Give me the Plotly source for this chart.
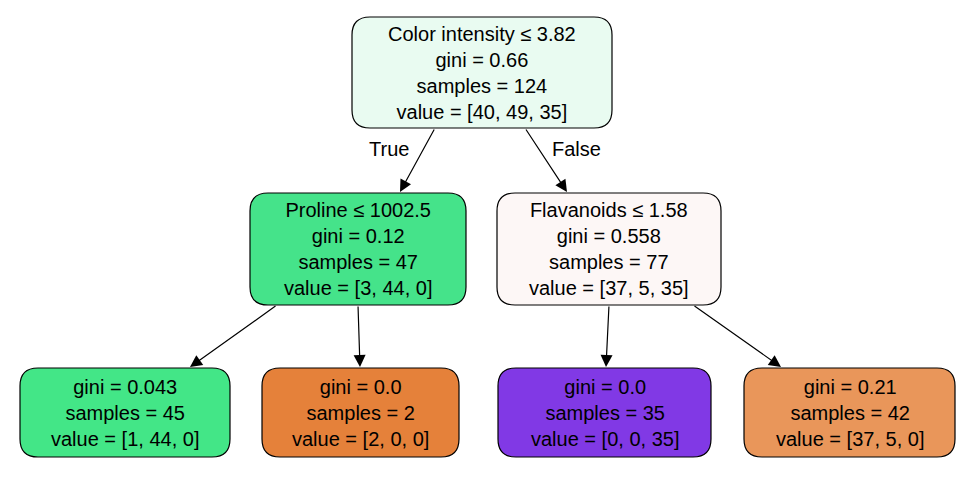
import plotly.graph_objects as go

# tree data
splits = ['Color intensity ≤ 3.82', 'Proline ≤ 1002.5', 'Flavanoids ≤ 1.58', None, None, None, None]
ginis = ['0.66', '0.12', '0.558', '0.043', '0.0', '0.0', '0.21']
samples = [124, 47, 77, 45, 2, 35, 42]
values = [[40, 49, 35], [3, 44, 0], [37, 5, 35], [1, 44, 0], [2, 0, 0], [0, 0, 35], [37, 5, 0]]
parents = [None, 0, 0, 1, 1, 2, 2]
fills = ['#e9fbf1', '#45e38a', '#fdf7f6', '#43e687', '#e5813a', '#8139e5', '#e9965a']

# layout in pixels (x0, y0, x1, y1)
boxes = [(352, 17, 612, 128), (250, 193, 466, 305), (497, 193, 721, 305),
         (20, 368, 230, 457), (262, 368, 459, 457), (498, 368, 711, 457), (744, 368, 955, 457)]
edges = {1: ((435, 128), (400, 192)), 2: ((525, 128), (567, 192)),
         3: ((277, 305), (190, 367)), 4: ((358, 305), (360, 367)),
         5: ((609, 305), (606, 367)), 6: ((693, 305), (781, 367))}
FONT = dict(family='Liberation Sans, Arial', size=20, color='black')
OFF = 8  # page margin offset


def rounded(x0, y0, x1, y1, r=18):
    return (f'M{x0+r},{y0} L{x1-r},{y0} Q{x1},{y0} {x1},{y0+r} L{x1},{y1-r} Q{x1},{y1} {x1-r},{y1} '
            f'L{x0+r},{y1} Q{x0},{y1} {x0},{y1-r} L{x0},{y0+r} Q{x0},{y0} {x0+r},{y0} Z')


fig = go.Figure()
for i, (x0, y0, x1, y1) in enumerate(boxes):
    fig.add_shape(type='path', path=rounded(x0, y0, x1, y1), fillcolor=fills[i],
                  line=dict(color='black', width=1.2), layer='below')
    lines = [splits[i]] if splits[i] else []
    lines += [f'gini = {ginis[i]}', f'samples = {samples[i]}',
              'value = [' + ', '.join(str(v) for v in values[i]) + ']']
    fig.add_annotation(x=(x0 + x1) / 2, y=(y0 + y1) / 2, text='<br>'.join(lines), showarrow=False,
                       font=FONT, xref='x', yref='y')

for child, ((ax, ay), (x, y)) in edges.items():
    fig.add_annotation(x=x, y=y, ax=ax, ay=ay, xref='x', yref='y', axref='x', ayref='y', text='',
                       showarrow=True, arrowhead=2, arrowsize=2, arrowwidth=1.2, arrowcolor='black')

fig.add_annotation(x=389, y=149, text='True', showarrow=False, font=FONT)
fig.add_annotation(x=576, y=149, text='False', showarrow=False, font=FONT)

fig.update_layout(
    width=974, height=483, margin=dict(l=0, r=0, t=0, b=0),
    paper_bgcolor='white', plot_bgcolor='white', showlegend=False,
    xaxis=dict(range=[OFF, 974 + OFF], visible=False, fixedrange=True),
    yaxis=dict(range=[483 + OFF, OFF], visible=False, fixedrange=True),
)
fig.write_html('out.html')
